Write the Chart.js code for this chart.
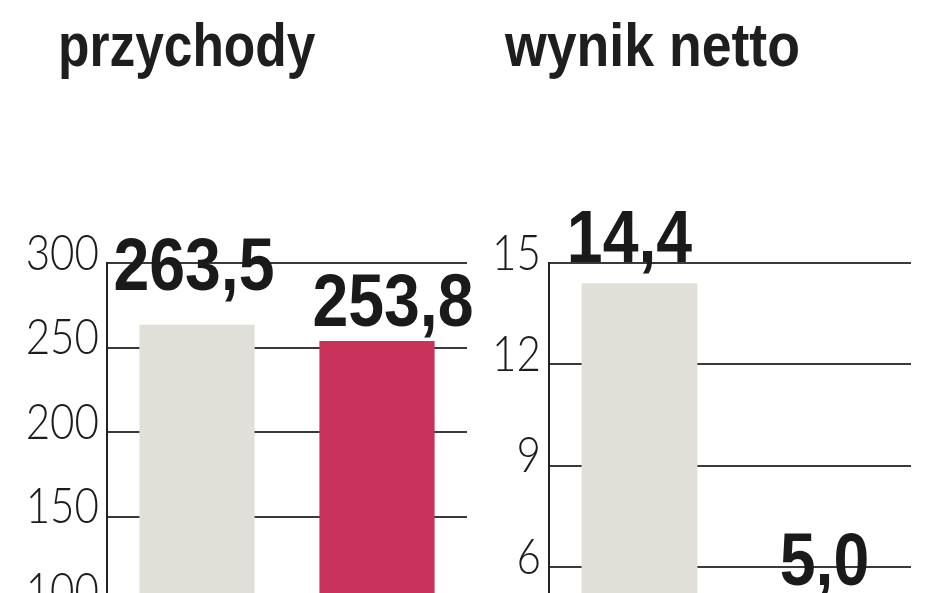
<!DOCTYPE html>
<html>
<head>
<meta charset="utf-8">
<script src="https://cdn.jsdelivr.net/npm/chart.js@4"></script>
<style>
  body { margin: 0; background: #fff; overflow: hidden; width: 948px; height: 593px; position: relative; }
  .title { position: absolute; top: 14px; font: bold 62px/62px "Liberation Sans", Arial, sans-serif; color: #1e1e1e; transform: scaleX(0.83); transform-origin: 0 0; white-space: nowrap; }
  canvas { position: absolute; top: 0; }
</style>
</head>
<body>
<div class="title" style="left:58px">przychody</div>
<div class="title" style="left:505px; transform: scaleX(0.865)">wynik netto</div>
<canvas id="revenueChart" style="left:0"></canvas>
<canvas id="netChart" style="left:480px"></canvas>
<script>
// chart data
const categories = ['poprzedni rok', 'bieżący rok'];
const revenue = [263.5, 253.8];
const netIncome = [14.4, 5.0];
const revenueTicks = [0, 50, 100, 150, 200, 250, 300];
const netTicks = [0, 3, 6, 9, 12, 15];

const barColors = ['#e0e0d9', '#c9335b'];

// condensed look: draw text squeezed horizontally
function squeezedText(ctx, txt, x, y, sx) {
  ctx.save();
  ctx.translate(x, y);
  ctx.scale(sx, 1);
  ctx.fillText(txt, 0, 0);
  ctx.restore();
}

// y tick labels, placed by the scale but drawn narrow
const tickLabels = {
  id: 'tickLabels',
  afterDraw(chart) {
    const ctx = chart.ctx;
    const y = chart.scales.y;
    ctx.save();
    ctx.font = '300 49px Lato, "Liberation Sans", sans-serif';
    ctx.fillStyle = '#1c1c1c';
    ctx.textAlign = 'right';
    ctx.textBaseline = 'alphabetic';
    y.ticks.forEach(t => {
      if (t.value === 0) return;
      squeezedText(ctx, String(t.value), y.right - 8, y.getPixelForValue(t.value) + 6.5, 0.86);
    });
    ctx.restore();
  }
};

// value above each bar ("263,5")
const valueLabels = {
  id: 'valueLabels',
  afterDatasetsDraw(chart, args, opts) {
    const ctx = chart.ctx;
    const meta = chart.getDatasetMeta(0);
    ctx.save();
    ctx.font = 'bold 74px "Liberation Sans", Arial, sans-serif';
    ctx.fillStyle = '#1a1a1a';
    ctx.textAlign = 'center';
    ctx.textBaseline = 'alphabetic';
    meta.data.forEach((bar, i) => {
      const v = chart.data.datasets[0].data[i];
      const txt = v.toFixed(1).replace('.', ',');
      squeezedText(ctx, txt, bar.x + opts.dx[i], bar.y - opts.gap[i], 0.87);
    });
    ctx.restore();
  }
};

function makeChart(id, values, ticks, max, canvasW, axisW, padRight, dx, gap) {
  const el = document.getElementById(id);
  el.width = canvasW;
  el.height = 800;
  return new Chart(el, {
    type: 'bar',
    data: {
      labels: categories,
      datasets: [{
        data: values,
        backgroundColor: barColors,
        barPercentage: 1,
        categoryPercentage: 0.64
      }]
    },
    options: {
      responsive: false,
      animation: false,
      layout: { padding: { top: 263, bottom: 30, left: 0, right: padRight } },
      plugins: {
        legend: { display: false },
        tooltip: { enabled: false },
        valueLabels: { dx: dx, gap: gap }
      },
      scales: {
        x: { display: false },
        y: {
          min: 0,
          max: max,
          afterBuildTicks: (scale) => { scale.ticks = ticks.map(v => ({ value: v })); },
          afterFit: (scale) => { scale.width = axisW; },
          grid: { color: '#3a3a3a', lineWidth: 2, drawTicks: false },
          border: { color: '#222', width: 2 },
          ticks: { display: false }
        }
      }
    },
    plugins: [tickLabels, valueLabels]
  });
}

makeChart('revenueChart', revenue, revenueTicks, 300, 480, 107, 13, [-3, 16], [35, 15]);
makeChart('netChart', netIncome, netTicks, 15, 468, 69, 37, [-10, 4], [21, 16]);
</script>
</body>
</html>
